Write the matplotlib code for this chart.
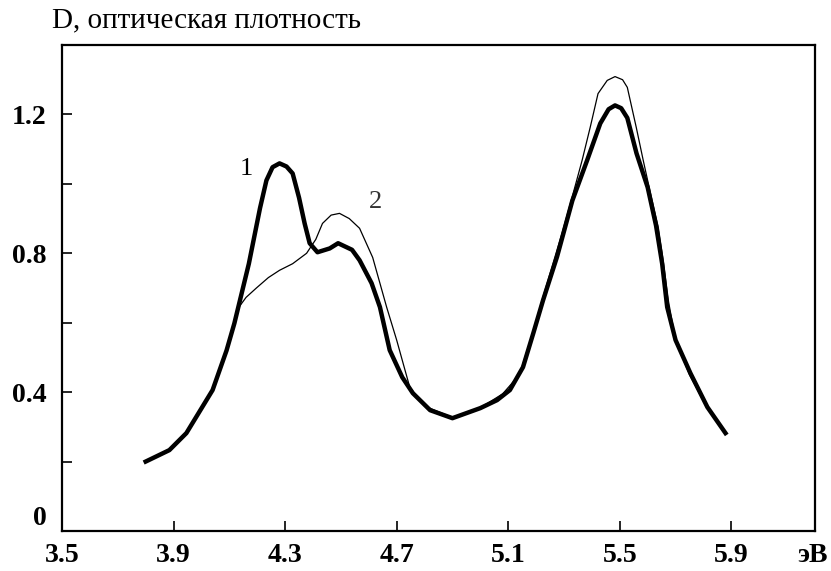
import matplotlib
matplotlib.use("Agg")
import matplotlib.pyplot as plt
import numpy as np

# energy (eV) and optical density
energy_1 = [3.80, 3.885, 3.946, 3.99, 4.04, 4.09, 4.118, 4.17, 4.21, 4.233,
            4.255, 4.28, 4.305, 4.327, 4.35, 4.37, 4.388, 4.416, 4.46, 4.49,
            4.54, 4.567, 4.61, 4.64, 4.675, 4.72, 4.758, 4.82, 4.90, 5.00,
            5.06, 5.106, 5.153, 5.19, 5.225, 5.275, 5.33, 5.383, 5.43, 5.46,
            5.483, 5.505, 5.527, 5.56, 5.60, 5.63, 5.652, 5.67, 5.70, 5.753,
            5.814, 5.879]
density_1 = [0.200, 0.233, 0.282, 0.340, 0.406, 0.520, 0.598, 0.770, 0.930, 1.010,
             1.048, 1.059, 1.050, 1.030, 0.960, 0.886, 0.829, 0.803, 0.814, 0.829,
             0.810, 0.780, 0.714, 0.645, 0.521, 0.443, 0.397, 0.348, 0.325, 0.354,
             0.377, 0.406, 0.472, 0.570, 0.665, 0.790, 0.952, 1.068, 1.174, 1.215,
             1.226, 1.218, 1.190, 1.088, 0.990, 0.880, 0.770, 0.645, 0.550, 0.455,
             0.357, 0.282]

energy_2 = [3.80, 3.885, 3.946, 3.99, 4.04, 4.09, 4.118, 4.13, 4.16, 4.197,
            4.24, 4.28, 4.327, 4.377, 4.41, 4.434, 4.465, 4.495, 4.53, 4.567,
            4.614, 4.664, 4.70, 4.747, 4.80, 4.90, 5.00, 5.08, 5.14, 5.19,
            5.225, 5.293, 5.333, 5.365, 5.394, 5.422, 5.455, 5.483, 5.51, 5.527,
            5.559, 5.584, 5.61, 5.638, 5.652, 5.675, 5.70, 5.75, 5.81, 5.875]
density_2 = [0.200, 0.233, 0.282, 0.340, 0.406, 0.520, 0.598, 0.640, 0.673, 0.700,
             0.730, 0.751, 0.770, 0.800, 0.840, 0.886, 0.910, 0.915, 0.900, 0.872,
             0.788, 0.645, 0.550, 0.414, 0.360, 0.327, 0.355, 0.395, 0.450, 0.575,
             0.675, 0.858, 0.973, 1.068, 1.163, 1.260, 1.298, 1.309, 1.300, 1.278,
             1.163, 1.068, 0.973, 0.875, 0.800, 0.660, 0.550, 0.450, 0.360, 0.285]

x_ticks = [3.5, 3.9, 4.3, 4.7, 5.1, 5.5, 5.9]
y_ticks = [0, 0.4, 0.8, 1.2]
y_minor = [0.2, 0.6, 1.0]

plt.rcParams["font.family"] = ["Liberation Serif", "DejaVu Serif"]

fig = plt.figure(figsize=(8.31, 5.71), dpi=100)
ax = fig.add_axes([62 / 831, 40 / 571, 753 / 831, 486 / 571])

ax.plot(energy_2, density_2, color="black", lw=0.9)
ax.plot(energy_1, density_1, color="black", lw=3.2, solid_joinstyle="round")

ax.set_xlim(3.5, 6.2)
ax.set_ylim(0, 1.4)

ax.set_xticks(x_ticks)
ax.set_xticklabels([f"{t:.1f}" for t in x_ticks])
ax.set_yticks(y_ticks)
ax.set_yticklabels(["0"] + [f"{t:.1f}" for t in y_ticks[1:]])
ax.set_yticks(y_minor, minor=True)

ax.tick_params(axis="both", which="both", direction="in", length=7, width=1.2,
               labelsize=20)
ax.tick_params(axis="x", pad=9)
ax.tick_params(axis="y", pad=11)
for lab in ax.get_xticklabels() + ax.get_yticklabels():
    lab.set_fontweight("bold")
# the zero label sits a little above the axis in the original
ax.get_yticklabels()[0].set_va("bottom")

for side in ax.spines.values():
    side.set_linewidth(1.6)

ax.text(4.161, 1.042, "1", fontsize=19, ha="center", va="center")
ax.text(4.625, 0.947, "2", fontsize=19, ha="center", va="center", color="#333333")

fig.text(52 / 831, 1 - 20 / 571, "D, оптическая плотность", fontsize=21,
         ha="left", va="center")
fig.text(812 / 831, 1 - 556 / 571, "эВ", fontsize=20, fontweight="bold",
         ha="center", va="center")

fig.savefig("out.png", dpi=100)
